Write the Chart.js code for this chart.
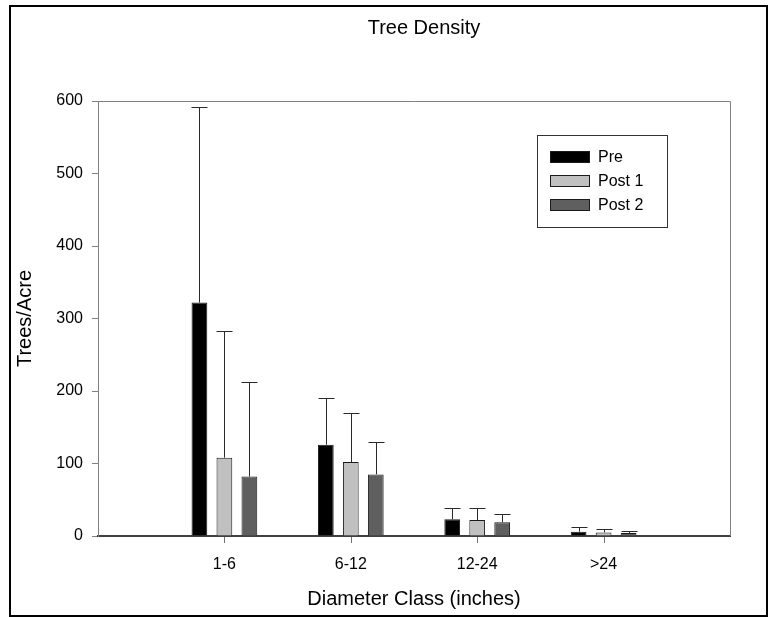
<!DOCTYPE html>
<html>
<head>
<meta charset="utf-8">
<style>
  html, body { margin: 0; padding: 0; background: #fff; }
  #wrap { width: 768px; height: 617px; }
</style>
<script src="https://cdn.jsdelivr.net/npm/chart.js@4/dist/chart.umd.min.js"></script>
</head>
<body>
<div id="wrap"><canvas id="c" width="768" height="617"></canvas></div>
<script>
// ---- data ----
const categories = ['1-6', '6-12', '12-24', '>24'];
const preValues   = [322, 126, 23, 6];
const post1Values = [108, 102, 22, 5];
const post2Values = [82, 85, 19, 4];
const preErrors   = [270, 64, 15, 6];
const post1Errors = [175, 68, 16, 4];
const post2Errors = [131, 44, 12, 3];
const yTicks = [0, 100, 200, 300, 400, 500, 600];
const seriesNames = ['Pre', 'Post 1', 'Post 2'];

const FONT = "'Liberation Sans', Arial, Helvetica, sans-serif";

// pad with an empty slot on each side of the category axis
const labels = [''].concat(categories, ['']);
const pad = arr => [null].concat(arr, [null]);

const colors = ['#000000', '#c0c0c0', '#5f5f5f'];
const errs = [preErrors, post1Errors, post2Errors];

const datasets = [preValues, post1Values, post2Values].map((vals, i) => ({
  label: seriesNames[i],
  data: pad(vals),
  errors: pad(errs[i]),
  backgroundColor: colors[i],
  borderColor: '#1a1a1a',
  borderWidth: 1,
  categoryPercentage: 0.593,
  barPercentage: 0.63
}));

const decor = {
  id: 'decor',
  beforeDraw(chart) {
    const ctx = chart.ctx;
    ctx.save();
    ctx.fillStyle = '#fff';
    ctx.fillRect(0, 0, chart.width, chart.height);
    ctx.restore();
  },
  afterDatasetsDraw(chart) {
    const ctx = chart.ctx;
    const y = chart.scales.y;
    ctx.save();
    ctx.lineWidth = 1;
    ctx.strokeStyle = '#2a2a2a';
    chart.data.datasets.forEach((ds, di) => {
      const meta = chart.getDatasetMeta(di);
      meta.data.forEach((bar, idx) => {
        const v = ds.data[idx];
        const e = ds.errors[idx];
        if (v == null || e == null) return;
        const x = Math.round(bar.x) + 0.5;
        const yTop = Math.round(y.getPixelForValue(v + e)) + 0.5;
        const yBase = y.getPixelForValue(v);
        ctx.beginPath();
        ctx.moveTo(x, yBase);
        ctx.lineTo(x, yTop);
        ctx.moveTo(x - 8, yTop);
        ctx.lineTo(x + 8, yTop);
        ctx.stroke();
      });
    });
    ctx.restore();
  },
  afterDraw(chart) {
    const ctx = chart.ctx;
    const a = chart.chartArea;
    const xs = chart.scales.x;
    ctx.save();
    // top & right plot border
    ctx.strokeStyle = '#808080';
    ctx.lineWidth = 1;
    ctx.beginPath();
    ctx.moveTo(a.left, a.top + 0.5);
    ctx.lineTo(a.right + 0.5, a.top + 0.5);
    ctx.lineTo(a.right + 0.5, a.bottom);
    ctx.stroke();
    // x tick marks at category positions
    ctx.strokeStyle = '#707070';
    ctx.beginPath();
    categories.forEach(c => {
      const px = Math.round(xs.getPixelForValue(labels.indexOf(c))) + 0.5;
      ctx.moveTo(px, a.bottom + 1);
      ctx.lineTo(px, a.bottom + 7);
    });
    ctx.stroke();
    // outer frame
    ctx.strokeStyle = '#000';
    ctx.lineWidth = 2;
    ctx.strokeRect(10, 6, 757, 610);
    // title
    ctx.fillStyle = '#000';
    ctx.font = '20px ' + FONT;
    ctx.textAlign = 'center';
    ctx.textBaseline = 'middle';
    ctx.fillText('Tree Density', 424, 28);
    // x title
    ctx.fillText('Diameter Class (inches)', (a.left + a.right) / 2, 599);
    // y title
    ctx.save();
    ctx.translate(25, (a.top + a.bottom) / 2);
    ctx.rotate(-Math.PI / 2);
    ctx.fillText('Trees/Acre', 0, 0);
    ctx.restore();
    // legend
    const lx = 537.5, ly = 135.5, lw = 130, lh = 92;
    ctx.strokeStyle = '#333';
    ctx.lineWidth = 1;
    ctx.strokeRect(lx, ly, lw, lh);
    ctx.font = '16px ' + FONT;
    ctx.textAlign = 'left';
    chart.data.datasets.forEach((ds, i) => {
      const sy = 151 + i * 24;
      ctx.fillStyle = ds.backgroundColor;
      ctx.fillRect(550, sy, 40, 12);
      ctx.strokeStyle = '#1a1a1a';
      ctx.strokeRect(550.5, sy + 0.5, 39, 11);
      ctx.fillStyle = '#000';
      ctx.fillText(ds.label, 598, sy + 7);
    });
    ctx.restore();
  }
};

new Chart(document.getElementById('c'), {
  type: 'bar',
  data: { labels, datasets },
  options: {
    responsive: false,
    animation: false,
    devicePixelRatio: 1,
    layout: { padding: { left: 10, top: 101, right: 38, bottom: 21 } },
    plugins: {
      legend: { display: false },
      title: { display: false },
      tooltip: { enabled: false }
    },
    scales: {
      x: {
        type: 'category',
        offset: false,
        afterFit(s) { s.height = 60; },
        grid: {
          display: false,
          offset: false,
          drawTicks: true,
          tickLength: 6
        },
        border: { display: true, color: '#404040', width: 2 },
        ticks: {
          color: '#000',
          font: { family: FONT, size: 16 },
          padding: 13,
          maxRotation: 0,
          autoSkip: false
        }
      },
      y: {
        min: 0,
        max: 600,
        afterFit(s) { s.width = 88; },
        afterBuildTicks(s) { s.ticks = yTicks.map(v => ({ value: v })); },
        grid: {
          display: true,
          drawOnChartArea: false,
          drawTicks: true,
          tickLength: 6,
          color: '#808080'
        },
        border: { display: true, color: '#808080', width: 1 },
        ticks: {
          color: '#000',
          font: { family: FONT, size: 16 },
          padding: 9
        }
      }
    }
  },
  plugins: [decor]
});
</script>
</body>
</html>
